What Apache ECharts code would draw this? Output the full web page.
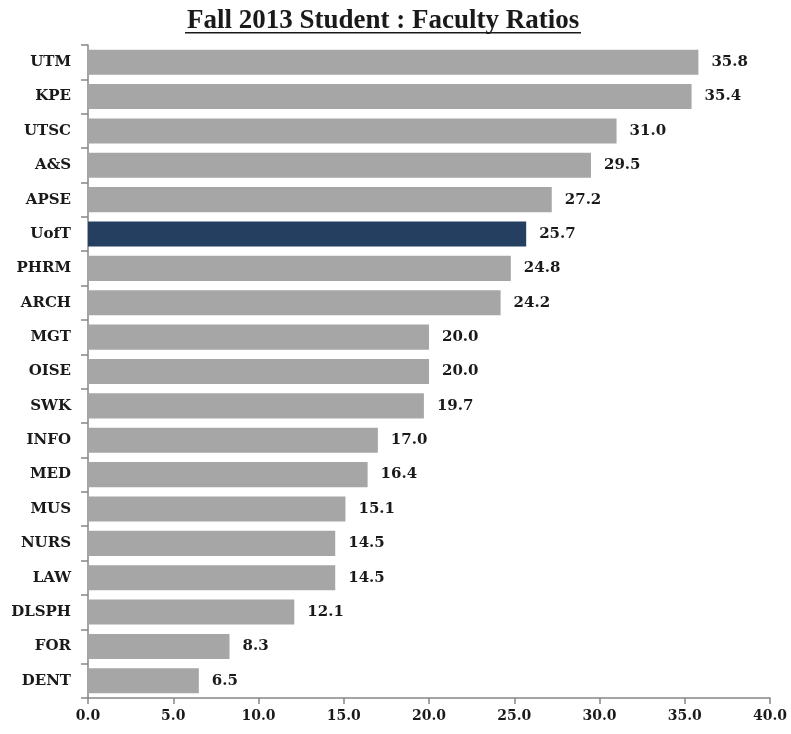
<!DOCTYPE html>
<html>
<head>
<meta charset="utf-8">
<script src="https://cdn.jsdelivr.net/npm/echarts@6/dist/echarts.min.js"></script>
<style>
  html, body { margin: 0; padding: 0; background: #fff; }
  #chart { width: 791px; height: 734px; }
</style>
</head>
<body>
<div id="chart"></div>
<script>
const faculties = ['UTM', 'KPE', 'UTSC', 'A&S', 'APSE', 'UofT', 'PHRM', 'ARCH', 'MGT', 'OISE',
    'SWK', 'INFO', 'MED', 'MUS', 'NURS', 'LAW', 'DLSPH', 'FOR', 'DENT'];
const ratios = [35.8, 35.4, 31.0, 29.5, 27.2, 25.7, 24.8, 24.2, 20.0, 20.0,
    19.7, 17.0, 16.4, 15.1, 14.5, 14.5, 12.1, 8.3, 6.5];
const highlight = 'UofT';

const barGray = '#a6a6a6';
const barNavy = '#243f60';
const axisGray = '#868686';
const serif = 'DejaVu Serif';

const chart = echarts.init(document.getElementById('chart'));
chart.setOption({
    animation: false,
    title: {
        text: 'Fall 2013 Student : Faculty Ratios',
        left: 182,
        top: 3,
        textStyle: {
            fontFamily: 'Liberation Serif',
            fontWeight: 'bold',
            fontSize: 27,
            color: '#1a1a1a'
        }
    },
    // title underline
    graphic: [{
        type: 'rect',
        shape: { x: 185, y: 32, width: 396, height: 1.5 },
        style: { fill: '#1a1a1a' }
    }],
    grid: { left: 88, right: 21, top: 45, bottom: 36 },
    xAxis: {
        type: 'value',
        min: 0,
        max: 40,
        interval: 5,
        splitLine: { show: false },
        axisLine: { show: true, lineStyle: { color: axisGray, width: 1.5 } },
        axisTick: { show: true, length: 6, lineStyle: { color: axisGray, width: 1.5 } },
        axisLabel: {
            margin: 11,
            formatter: (v) => v.toFixed(1),
            fontFamily: serif,
            fontWeight: 'bold',
            fontSize: 14,
            color: '#1a1a1a'
        }
    },
    yAxis: {
        type: 'category',
        inverse: true,
        data: faculties,
        axisLine: { show: true, lineStyle: { color: axisGray, width: 1.5 } },
        axisTick: { show: true, length: 7, lineStyle: { color: axisGray, width: 1.5 } },
        axisLabel: {
            margin: 17,
            fontFamily: serif,
            fontWeight: 'bold',
            fontSize: 15,
            color: '#1a1a1a'
        }
    },
    series: [{
        type: 'bar',
        barCategoryGap: '27%',
        data: ratios.map((v, i) => ({
            value: v,
            itemStyle: { color: faculties[i] === highlight ? barNavy : barGray }
        })),
        label: {
            show: true,
            position: 'right',
            distance: 13,
            formatter: (p) => p.value.toFixed(1),
            fontFamily: serif,
            fontWeight: 'bold',
            fontSize: 15,
            color: '#1a1a1a'
        }
    }]
});
</script>
</body>
</html>
